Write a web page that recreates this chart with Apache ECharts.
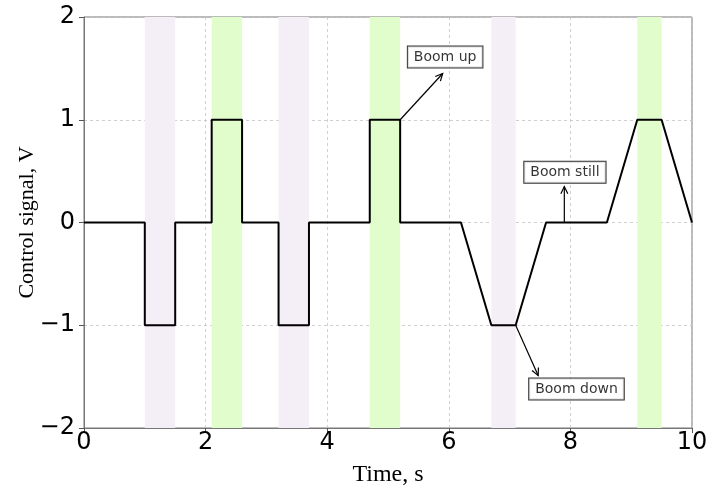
<!DOCTYPE html>
<html>
<head>
<meta charset="utf-8">
<script src="https://cdn.jsdelivr.net/npm/echarts@6/dist/echarts.min.js"></script>
<style>html,body{margin:0;padding:0;background:#fff}#c{width:707px;height:487px}</style>
</head>
<body>
<div id="c"></div>
<script>
var signalX = [0, 1.0, 1.0, 1.5, 1.5, 2.1, 2.1, 2.6, 2.6, 3.2, 3.2, 3.7, 3.7, 4.7, 4.7, 5.2, 5.2, 6.2, 6.7, 7.1, 7.6, 8.6, 9.1, 9.5, 10];
var signalY = [0, 0, -1, -1, 0, 0, 1, 1, 0, 0, -1, -1, 0, 0, 1, 1, 0, 0, -1, -1, 0, 0, 1, 1, 0];
var downBands = [[1.0, 1.5], [3.2, 3.7], [6.7, 7.1]];
var upBands = [[2.1, 2.6], [4.7, 5.2], [9.1, 9.5]];
var annotLabels = ['Boom up', 'Boom still', 'Boom down'];
var annotBoxX = [5.94, 7.91, 8.1];
var annotBoxY = [1.61, 0.49, -1.62];
var arrowFromX = [5.2, 7.9, 7.1];
var arrowFromY = [1, 0, -1];
var arrowToX = [5.9, 7.9, 7.47];
var arrowToY = [1.45, 0.35, -1.49];
var xTicks = [0, 2, 4, 6, 8, 10];
var yTicks = [-2, -1, 0, 1, 2];

var chart = echarts.init(document.getElementById('c'));
function fmt(v){ return String(v).replace('-', '\u2212'); }
var sig = signalX.map(function(x, i){ return [x, signalY[i]]; });
function bandAreas(b){ return b.map(function(p){ return [{xAxis: p[0]}, {xAxis: p[1]}]; }); }
var arrows = arrowFromX.map(function(x, i){ return [x, arrowFromY[i], arrowToX[i], arrowToY[i]]; });
var boxes = annotBoxX.map(function(x, i){ return {value: [x, annotBoxY[i]], name: annotLabels[i]}; });

var axisCommon = {
  axisLine: {show: true, onZero: false, lineStyle: {color: '#777', width: 1}},
  axisTick: {show: true, inside: false, length: 5, lineStyle: {color: '#555'}},
  splitLine: {show: true, lineStyle: {color: '#c4c4c4', type: [3, 3], width: 0.8}},
  axisLabel: {color: '#000', fontFamily: 'DejaVu Sans', fontSize: 24, formatter: fmt},
  nameTextStyle: {color: '#000', fontFamily: 'Liberation Serif', fontSize: 24},
  nameMoveOverlap: false
};

chart.setOption({
  animation: false,
  grid: {left: 84, right: 15, top: 17, bottom: 59, outerBoundsMode: 'none', containLabel: false, show: true, borderColor: '#777', borderWidth: 1, backgroundColor: 'transparent'},
  xAxis: Object.assign({}, axisCommon, {
    type: 'value', min: 0, max: 10, interval: 2,
    name: 'Time, s', nameLocation: 'middle', nameGap: 35,
    axisLabel: Object.assign({}, axisCommon.axisLabel, {margin: 3})
  }),
  yAxis: Object.assign({}, axisCommon, {
    type: 'value', min: -2, max: 2, interval: 1,
    name: 'Control signal, V', nameLocation: 'middle', nameGap: 46,
    nameTextStyle: {color: '#000', fontFamily: 'Liberation Serif', fontSize: 22},
    axisLabel: Object.assign({}, axisCommon.axisLabel, {margin: 9})
  }),
  series: [
    {
      type: 'line', data: [], silent: true,
      markArea: {silent: true, itemStyle: {color: '#f4eff7'}, data: bandAreas(downBands)}
    },
    {
      type: 'line', data: [], silent: true,
      markArea: {silent: true, itemStyle: {color: '#e0fdcb'}, data: bandAreas(upBands)}
    },
    {
      type: 'line', data: sig, showSymbol: false, symbol: 'none',
      lineStyle: {color: '#000', width: 2}, z: 5
    },
    {
      type: 'custom', data: arrows, z: 6, silent: true,
      renderItem: function(params, api){
        var p1 = api.coord([api.value(0), api.value(1)]);
        var p2 = api.coord([api.value(2), api.value(3)]);
        var ang = Math.atan2(p2[1] - p1[1], p2[0] - p1[0]);
        var L = 8, a = 0.45;
        var h1 = [p2[0] - L * Math.cos(ang - a), p2[1] - L * Math.sin(ang - a)];
        var h2 = [p2[0] - L * Math.cos(ang + a), p2[1] - L * Math.sin(ang + a)];
        return {type: 'group', children: [
          {type: 'line', shape: {x1: p1[0], y1: p1[1], x2: p2[0], y2: p2[1]}, style: {stroke: '#000', lineWidth: 1.2}},
          {type: 'polyline', shape: {points: [h1, p2, h2]}, style: {stroke: '#000', lineWidth: 1.2, fill: null}}
        ]};
      }
    },
    {
      type: 'scatter', data: boxes, symbolSize: 0, z: 7, silent: true,
      label: {show: true, position: 'inside', formatter: '{b}', color: '#000', fontFamily: 'DejaVu Sans', fontSize: 14,
        backgroundColor: '#fff', borderColor: '#000', borderWidth: 1, padding: [4, 6, 3, 6]}
    }
  ]
});
</script>
</body>
</html>
